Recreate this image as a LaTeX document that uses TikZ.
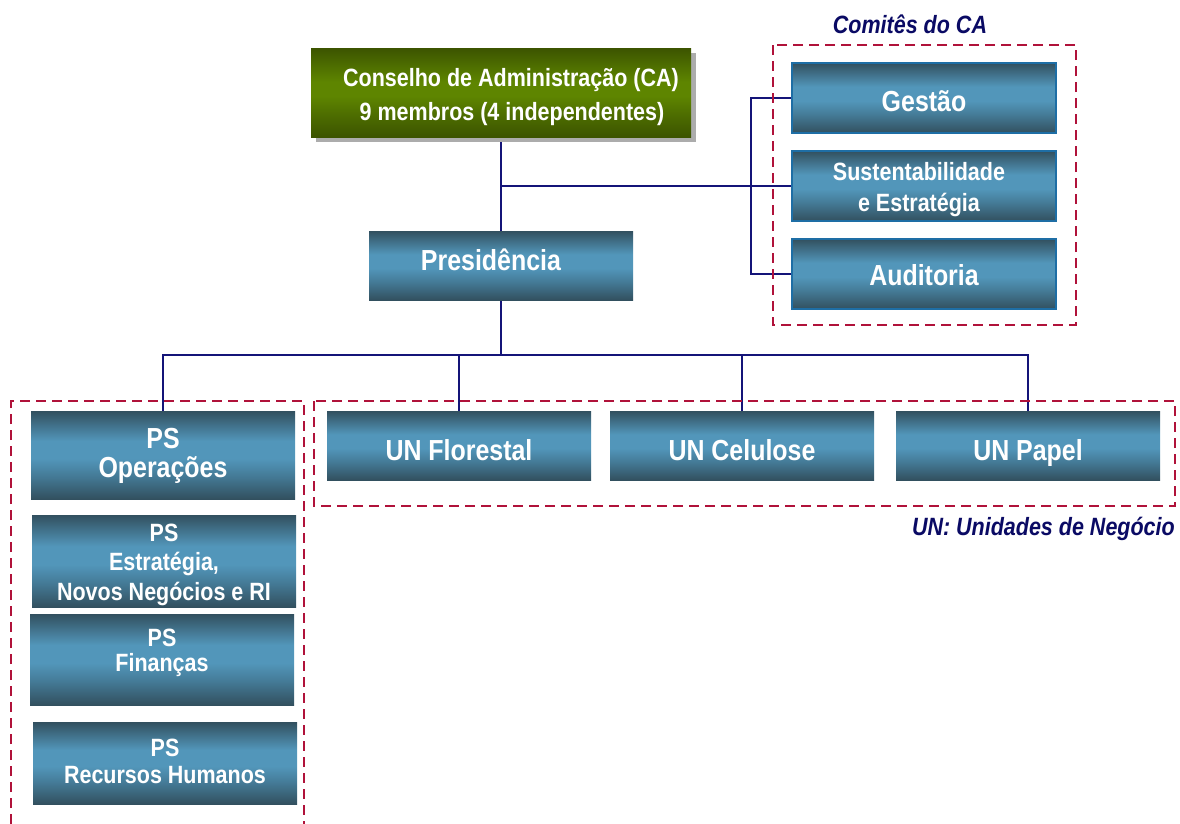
\documentclass[tikz,border=0pt]{standalone}
\usepackage{fontspec}
\setmainfont{Liberation Sans}
\newfontfamily\nar[FakeStretch=0.86]{Liberation Sans}
\usetikzlibrary{shadows,backgrounds}
\definecolor{bdark}{RGB}{50,80,95}
\definecolor{bmix}{RGB}{68,122,150}
\definecolor{bmid}{RGB}{82,150,186}
\definecolor{gdark}{RGB}{60,84,0}
\definecolor{gmix}{RGB}{78,110,0}
\definecolor{gmid}{RGB}{94,133,0}
\definecolor{navy}{RGB}{10,10,100}
\definecolor{lnavy}{RGB}{20,20,120}
\definecolor{crim}{RGB}{176,18,58}
\definecolor{bord}{RGB}{30,110,165}
\pgfdeclareverticalshading{bluebar}{100bp}{color(0bp)=(bdark); color(25bp)=(bdark); color(38bp)=(bmix); color(48bp)=(bmid); color(58bp)=(bmid); color(75bp)=(bdark); color(100bp)=(bdark)}
\pgfdeclareverticalshading{greenbar}{100bp}{color(0bp)=(gdark); color(25bp)=(gdark); color(38bp)=(gmix); color(48bp)=(gmid); color(56bp)=(gmid); color(75bp)=(gdark); color(100bp)=(gdark)}
\tikzset{
  bbox/.style={minimum width=264, minimum height=70, inner sep=0, shading=bluebar, text=white, align=center, font=\nar\bfseries\fontsize{29}{29}\selectfont},
  cbox/.style={bbox, draw=bord, line width=1.5pt},
  dashbox/.style={draw=crim, line width=2.6pt, dash pattern=on 10pt off 6pt},
  conn/.style={draw=lnavy, line width=1.6pt},
  lbl/.style={text=navy, font=\nar\bfseries\itshape\fontsize{25}{28}\selectfont, inner sep=0}
}
\begin{document}
\begin{tikzpicture}[x=1pt,y=-1pt]
\useasboundingbox (0,0) rectangle (1180,823);
% dashed groups
\draw[dashbox] (773,45) rectangle (1076,325);
\draw[dashbox] (314,401) rectangle (1175,506);
\draw[dashbox] (11,840) -- (11,401) -- (304,401) -- (304,840);
% nodes
\node[bbox, shading=greenbar, minimum width=380, minimum height=89,
      font=\nar\bfseries\fontsize{25}{34}\selectfont, text height=56.4pt, text depth=0pt,
      drop shadow={shadow xshift=5pt, shadow yshift=-5pt, fill=gray!65, opacity=1}]
  (ca) at (501,92.5) {\hspace*{20pt}Conselho de Administração (CA)\\\hspace*{22pt}9 membros (4 independentes)};
\node[bbox, minimum height=69, text height=20pt, text depth=11pt] (pres) at (501,265.5) {Presidência\hspace*{20pt}};
\node[cbox, text height=27.4pt, text depth=0pt] (ges) at (924,98) {Gestão};
\node[cbox, font=\nar\bfseries\fontsize{25}{31.7}\selectfont, text height=51.4pt, text depth=0pt] (sus) at (924,186) {Sustentabilidade\hspace*{10pt}\\e Estratégia\hspace*{10pt}};
\node[cbox, text height=22pt, text depth=0pt] (aud) at (924,274) {Auditoria};
\node[bbox, minimum height=88, text height=44.6pt, text depth=0pt] (ops) at (163,455) {PS\\Operações};
\node[bbox, minimum height=92, font=\nar\bfseries\fontsize{25}{29.2}\selectfont, text height=78pt, text depth=0pt] (est) at (164,561) {PS\\Estratégia,\\Novos Negócios e RI};
\node[bbox, minimum height=91, font=\nar\bfseries\fontsize{25}{25}\selectfont, text height=24.4pt, text depth=0pt] (fin) at (162,659.5) {PS\\Finanças};
\node[bbox, minimum height=82, font=\nar\bfseries\fontsize{25}{26.6}\selectfont, text height=40.6pt, text depth=0pt] (rh) at (165,763) {PS\\Recursos Humanos};
\node[bbox, minimum height=69, text height=29pt, text depth=0pt] (flo) at (459,445.5) {UN Florestal};
\node[bbox, minimum height=69, text height=29pt, text depth=0pt] (cel) at (742,445.5) {UN Celulose};
\node[bbox, minimum height=69, text height=29pt, text depth=0pt] (pap) at (1028,445.5) {UN Papel};
% labels
\node[lbl, anchor=base] (lcom) at (910,33.3) {Comitês do CA};
\node[lbl, anchor=base east] (lun) at (1175,535) {UN: Unidades de Negócio};
% connectors
\begin{scope}[on background layer]
\coordinate (bus) at (501,355);
\draw[conn] (ca.south) -- (pres.north);
\draw[conn] (ca.south |- sus.west) -- (sus.west);
\draw[conn] (ges.west) -- ++(-40,0) |- (aud.west);
\draw[conn] (pres.south) -- (bus);
\draw[conn] (ops.north) |- (bus) -| (pap.north);
\draw[conn] (flo.north) -- (flo.north |- bus);
\draw[conn] (cel.north) -- (cel.north |- bus);
\end{scope}
\end{tikzpicture}
\end{document}
